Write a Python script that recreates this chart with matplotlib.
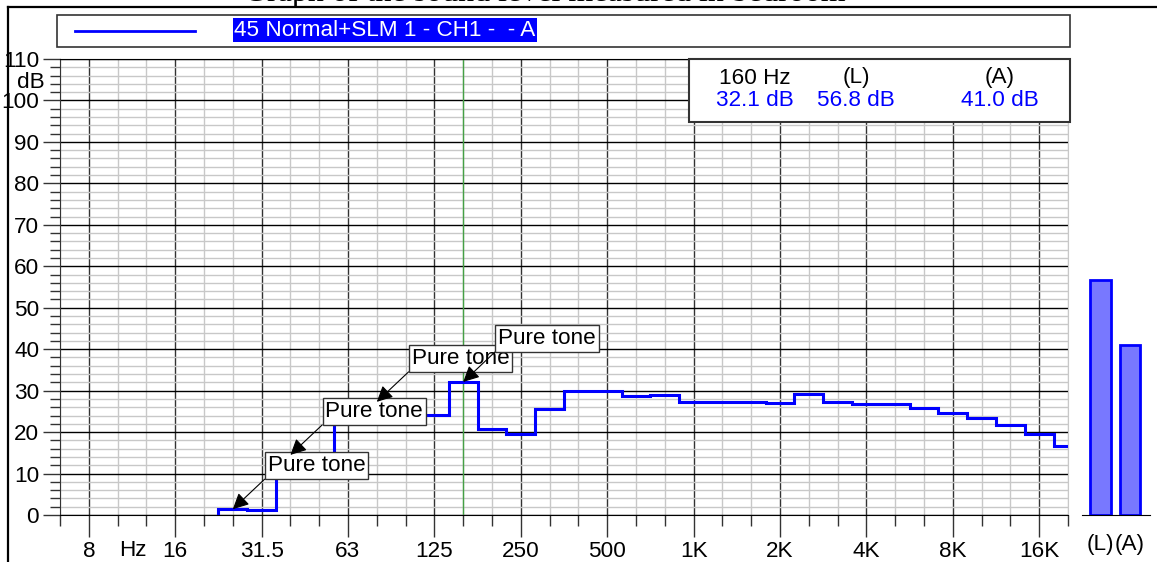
import numpy as np
import matplotlib
matplotlib.use('Agg')
import matplotlib.pyplot as plt
from matplotlib.patches import Rectangle
from matplotlib.lines import Line2D
from matplotlib.ticker import NullFormatter

plt.rcParams.update({
    'font.family': ['Liberation Sans', 'DejaVu Sans'],
    'font.size': 16.2,
})

# 1/3-octave band centres (nominal, Hz) and measured levels (dB)
bands = [25, 31.5, 40, 50, 63, 80, 100, 125, 160, 200, 250, 315, 400, 500, 630, 800,
         1000, 1250, 1600, 2000, 2500, 3150, 4000, 5000, 6300, 8000, 10000, 12500,
         16000, 20000]
levels = [1.4, 1.2, 14.5, 14.5, 22.5, 27.3, 24.0, 24.1, 32.1, 20.7, 19.5, 25.6, 29.8,
          30.0, 28.8, 28.9, 27.3, 27.2, 27.3, 27.1, 29.2, 27.2, 26.8, 26.8, 25.7, 24.7,
          23.5, 21.6, 19.5, 16.6]

# overall values shown as bars on the right
overall_labels = ['(L)', '(A)']
overall_values = [56.8, 41.0]

cursor_freq = 160
tone_bands = [25, 40, 80, 160]
series_name = '45 Normal+SLM 1 - CH1 -  - A'

octave_ticks = [8, 16, 31.5, 63, 125, 250, 500, 1000, 2000, 4000, 8000, 16000]
octave_labels = ['8', '16', '31.5', '63', '125', '250', '500', '1K', '2K', '4K', '8K', '16K']

W, H = 1157, 562


def fx(x):
    return x / W


def fy(y):
    return 1 - y / H


def band_no(f):
    return int(round(3 * np.log2(f / 1000.0)))


def exact(f):
    return 1000.0 * 2 ** (band_no(f) / 3.0)


nos = np.array([band_no(f) for f in bands])
edges = 1000.0 * 2 ** ((np.append(nos, nos[-1] + 1) - 0.5) / 3.0)

fig = plt.figure(figsize=(W / 100, H / 100), dpi=100)

# outer frame (cropped at the top)
fig.add_artist(Line2D([fx(8), 1], [fy(7), fy(7)], color='black', lw=1.6))
fig.add_artist(Line2D([fx(8), fx(8)], [fy(7), 0], color='black', lw=1.6))
fig.text(fx(545), fy(1.5), 'Graph of the sound level measured in bedroom', ha='center',
         va='baseline', family='Liberation Serif', fontsize=23)

# legend box
fig.add_artist(Rectangle((fx(57), fy(47)), fx(1070) - fx(57), fy(15) - fy(47),
                         transform=fig.transFigure, fc='white', ec='#333333', lw=1.2))
fig.add_artist(Line2D([fx(75), fx(195)], [fy(31), fy(31)], color='#0000ff', lw=2))
fig.text(fx(234), fy(30), series_name, ha='left', va='center', color='white',
         bbox=dict(boxstyle='square,pad=0.06', fc='#0000ff', ec='none'))

# main spectrum axes
ax = fig.add_axes([fx(60), fy(515), fx(1068) - fx(60), fy(59) - fy(515)])
ax.set_xscale('log')
ax.set_xlim(1000 * 2 ** (-21.9 / 3), 1000 * 2 ** (12.98 / 3))
ax.set_ylim(0, 110)

maj = [exact(f) for f in octave_ticks]
minor = [1000 * 2 ** (n / 3) for n in range(-22, 14)]
minor = [m for m in minor if all(abs(m / v - 1) > 1e-6 for v in maj)]
ax.set_xticks(maj, octave_labels)
ax.set_xticks(minor, minor=True)
ax.xaxis.set_minor_formatter(NullFormatter())
ax.set_yticks(np.arange(0, 111, 10))
ax.set_yticks(np.arange(0, 111, 2), minor=True)

ax.tick_params(axis='x', which='major', length=16, width=1, pad=3, color='#333333')
ax.tick_params(axis='x', which='minor', length=8, width=1, color='#333333')
ax.tick_params(axis='y', which='major', length=12, width=1, pad=3, color='#333333')
ax.tick_params(axis='y', which='minor', length=7, width=1, color='#333333')

ax.grid(True, axis='x', which='major', color='#333333', lw=1)
ax.grid(True, axis='x', which='minor', color='#c8c8c8', lw=1)
ax.grid(True, axis='y', which='minor', color='#c8c8c8', lw=1)
ax.grid(True, axis='y', which='major', color='black', lw=1)
ax.set_axisbelow(True)

for side in ['top', 'bottom']:
    ax.spines[side].set_color('black')
ax.spines['left'].set_color('#333333')
ax.spines['right'].set_color('#c8c8c8')

ax.stairs(levels, edges, baseline=0, color='#0000ff', lw=2.2, zorder=3)
ax.axvline(exact(cursor_freq), color='#45a045', lw=1, zorder=2)

for f in tone_bands:
    lv = levels[bands.index(f)]
    ax.annotate('Pure tone', xy=(exact(f), lv), xytext=(35, 33), textcoords='offset pixels',
                ha='left', va='bottom', zorder=6,
                bbox=dict(boxstyle='square,pad=0.12', fc='white', ec='#333333', lw=1),
                arrowprops=dict(arrowstyle='-|>', color='black', lw=0.8, mutation_scale=24,
                                shrinkA=0, shrinkB=0, relpos=(0, 0)))

fig.text(fx(45), fy(82), 'dB', ha='right', va='center')
fig.text(fx(133), fy(551), 'Hz', ha='center', va='center')

# readout box
fig.add_artist(Rectangle((fx(689), fy(122)), fx(1070) - fx(689), fy(59) - fy(122),
                         transform=fig.transFigure, fc='white', ec='#333333', lw=1.5,
                         zorder=5))
cur_level = levels[bands.index(cursor_freq)]
heads = [f'{cursor_freq} Hz'] + overall_labels
vals = [cur_level] + overall_values
for xc, hd, v in zip([755, 856, 1000], heads, vals):
    fig.text(fx(xc), fy(78), hd, ha='center', va='center', zorder=6)
    fig.text(fx(xc), fy(101), f'{v:.1f} dB', ha='center', va='center', color='#0000ff',
             zorder=6)

# overall bars
bax = fig.add_axes([fx(1082), fy(515), fx(1150) - fx(1082), fy(59) - fy(515)])
bax.bar([0, 1], overall_values, width=0.71, color='#7878ff', edgecolor='#0000ff', lw=2)
bax.set_xlim(-0.627, 1.678)
bax.set_ylim(0, 110)
for side in ['top', 'left', 'right']:
    bax.spines[side].set_visible(False)
bax.set_yticks([])
bax.set_xticks([0, 1], overall_labels)
bax.tick_params(axis='x', length=0, pad=14)
bax.patch.set_alpha(0)

fig.savefig('out.png', dpi=100)
